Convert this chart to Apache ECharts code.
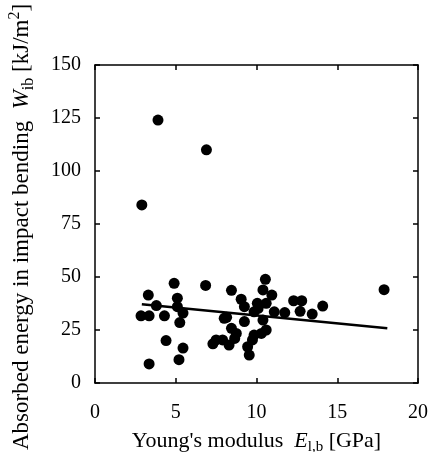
<!DOCTYPE html>
<html>
<head>
<meta charset="utf-8">
<script src="https://cdn.jsdelivr.net/npm/echarts@6/dist/echarts.min.js"></script>
<style>
  html, body { margin: 0; padding: 0; background: #fff; }
  #chart { width: 431px; height: 452px; }
</style>
</head>
<body>
<div id="chart"></div>
<script>
// Young's modulus E_l,b [GPa] of each specimen
const modulus = [
  3.9, 6.9, 2.9, 17.9,
  3.35, 4.4, 5.2, 5.45, 4.9, 3.3, 3.8, 2.85, 3.35, 4.3, 5.1, 5.1, 5.45, 5.25, 6.85,
  8.45, 9.05, 9.25, 10.05, 10.6, 11.1, 9.85, 8.0, 9.25, 10.4, 8.45, 8.75, 10.3,
  7.9, 7.5, 7.3, 8.3, 8.65, 9.75, 9.45, 9.55, 9.85, 10.6,
  10.55, 10.4, 10.95, 11.75, 12.3, 12.8, 12.7, 13.45, 14.1, 10.1, 8.15
];
// Absorbed energy in impact bending W_ib [kJ/m2]
const energy = [
  124, 110, 84, 44,
  9, 20, 11, 16.5, 47, 41.5, 36.5, 31.7, 31.7, 31.7, 40, 36, 33, 28.5, 46,
  43.7, 39.5, 36, 37.6, 37.6, 33.6, 33.6, 30.5, 29, 29.7, 25.8, 23.4, 23.4,
  20.3, 20.3, 18.5, 17.9, 21, 20.3, 17.1, 13.2, 22.6, 25,
  48.9, 43.9, 41.5, 33.2, 38.8, 38.8, 33.8, 32.5, 36.3, 35.2, 31
];
// Fitted regression line end points
const fitModulus = [2.9, 18.1];
const fitEnergy = [37.1, 25.8];

const xTicks = [0, 5, 10, 15, 20];
const yTicks = [0, 25, 50, 75, 100, 125, 150];

const points = modulus.map((x, i) => [x, energy[i]]);
const fitLine = fitModulus.map((x, i) => [x, fitEnergy[i]]);

const serif = '"Liberation Serif", "DejaVu Serif", serif';
const ink = '#000';

function richFor(size) {
  const sub = Math.round(size * 0.68);
  return {
    n: { fontFamily: serif, fontSize: size, color: ink, fill: ink, lineHeight: size + 4, verticalAlign: 'bottom' },
    i: { fontFamily: serif, fontSize: size, color: ink, fill: ink, fontStyle: 'italic', lineHeight: size + 4, verticalAlign: 'bottom' },
    s: { fontFamily: serif, fontSize: sub, color: ink, fill: ink, lineHeight: sub, verticalAlign: 'bottom', padding: [0, 0, -3, 0] },
    p: { fontFamily: serif, fontSize: sub, color: ink, fill: ink, lineHeight: sub, verticalAlign: 'top' }
  };
}

const lineStyle = { color: ink, width: 1.5 };

const mainAxisCommon = {
  axisLine: { show: true, onZero: false, lineStyle: lineStyle },
  axisTick: { show: true, inside: true, length: 5, lineStyle: lineStyle },
  splitLine: { show: false }
};

const mirrorCommon = {
  axisLine: { show: true, onZero: false, lineStyle: lineStyle },
  axisTick: { show: true, inside: true, length: 5, lineStyle: lineStyle },
  axisLabel: { show: false },
  splitLine: { show: false }
};

const chart = echarts.init(document.getElementById('chart'), null, { renderer: 'canvas' });
chart.setOption({
  backgroundColor: '#fff',
  animation: false,
  grid: { left: 95, right: 13, top: 65, bottom: 69, outerBoundsMode: 'none', containLabel: false },
  // Vertical axis title, read bottom to top, starting near the lower edge
  graphic: [{
    type: 'text',
    x: 20,
    y: 450,
    rotation: Math.PI / 2,
    style: {
      text: '{n|Absorbed energy in impact bending  }{i|W}{s|ib}{n| [kJ/m}{p|2}{n|]}',
      rich: richFor(23),
      align: 'left',
      verticalAlign: 'middle'
    }
  }],
  xAxis: [
    Object.assign({
      type: 'value', min: xTicks[0], max: xTicks[xTicks.length - 1], interval: 5,
      position: 'bottom',
      name: "{n|Young's modulus  }{i|E}{s|l,b}{n| [GPa]}",
      nameLocation: 'middle', nameGap: 43,
      nameTextStyle: { rich: richFor(22) },
      axisLabel: { fontFamily: serif, fontSize: 20, color: ink, margin: 20 }
    }, mainAxisCommon),
    Object.assign({
      type: 'value', min: xTicks[0], max: xTicks[xTicks.length - 1], interval: 5,
      position: 'top'
    }, mirrorCommon)
  ],
  yAxis: [
    Object.assign({
      type: 'value', min: yTicks[0], max: yTicks[yTicks.length - 1], interval: 25,
      position: 'left',
      axisLabel: { fontFamily: serif, fontSize: 20, color: ink, margin: 14 }
    }, mainAxisCommon),
    Object.assign({
      type: 'value', min: yTicks[0], max: yTicks[yTicks.length - 1], interval: 25,
      position: 'right'
    }, mirrorCommon)
  ],
  series: [
    {
      type: 'line',
      data: fitLine,
      symbol: 'none',
      lineStyle: { color: ink, width: 2.5 },
      z: 3
    },
    {
      type: 'scatter',
      data: points,
      symbol: 'circle',
      symbolSize: 11,
      itemStyle: { color: ink, opacity: 1 },
      z: 4
    }
  ]
});
</script>
</body>
</html>
